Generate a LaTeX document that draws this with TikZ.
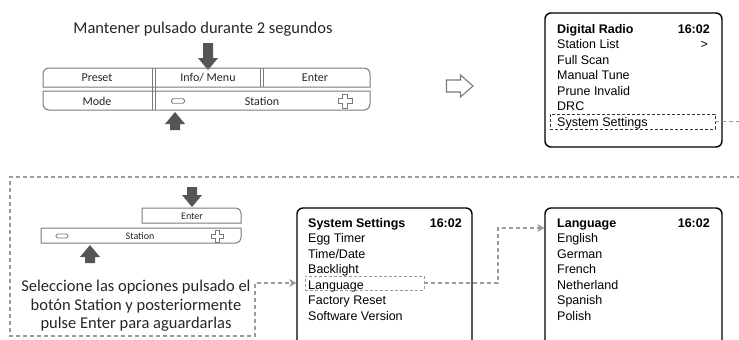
\documentclass[tikz,border=0pt]{standalone}
\usepackage{fontspec}
\setmainfont{Liberation Sans}
\newfontfamily\calfont{Carlito}
\usetikzlibrary{arrows.meta}
\definecolor{arrowgray}{HTML}{555555}
\definecolor{linegray}{HTML}{9A9A9A}
\definecolor{panelgray}{HTML}{7A7A7A}
\begin{document}
\begin{tikzpicture}[x=1pt,y=1pt,
  screen/.style={draw=black,line width=1.4pt,rounded corners=6pt,inner sep=0},
  scrtxt/.style={anchor=base west,inner sep=0,font=\fontsize{12.5}{14}\selectfont},
  scrbold/.style={inner sep=0,font=\fontsize{12.5}{14}\selectfont\bfseries},
  itembox/.style={draw=#1,line width=0.7pt,dash pattern=on 3pt off 2pt,inner sep=0},
  conn/.style={draw=linegray,line width=1.1pt,dash pattern=on 4pt off 3pt},
  tipg/.style={-{Stealth[length=7pt,width=8pt,inset=2pt,fill=linegray]}},
  panel/.style={draw=panelgray,line width=1pt},
  btxt/.style={font=\calfont\fontsize{12}{14}\selectfont,inner sep=0,text=black!85},
  bsmall/.style={font=\calfont\fontsize{10}{12}\selectfont,inner sep=0,text=black!85},
  bigtxt/.style={font=\calfont\fontsize{16.5}{20}\selectfont,anchor=base,inner sep=0,text=black!85},
  minusbox/.style={draw=panelgray,rounded corners=1.5pt,line width=0.8pt,inner sep=0},
  pics/blockarr/.style={code={
     \fill[arrowgray] ({-5},{#1/2}) -- ({5},{#1/2}) -- ({5},{-#1/2+12}) -- ({10},{-#1/2+12})
       -- ({0},{-#1/2}) -- ({-10},{-#1/2+12}) -- ({-5},{-#1/2+12}) -- cycle;}}
]
\clip (0,0) rectangle (739,-340);
\fill[white] (0,0) rectangle (739,-340);

% ---------- top-left: keypad ----------
\node[bigtxt] (title) at (203,-33) {Mantener pulsado durante 2 segundos};
\coordinate (downA) at (208,-56.5);
\pic at (downA) {blockarr=27};

\draw[panel] (43,-87) -- (43,-74) arc[start angle=180,end angle=90,radius=6pt]
   -- (364,-68) arc[start angle=90,end angle=0,radius=6pt] -- (370,-87) -- cycle;
\draw[panel] (43,-91) -- (43,-104) arc[start angle=180,end angle=270,radius=6pt]
   -- (364,-110) arc[start angle=270,end angle=360,radius=6pt] -- (370,-91) -- cycle;
\draw[panel] (152,-68) -- (152,-110) (155,-68) -- (155,-110);
\draw[panel] (260,-68) -- (260,-87) (263,-68) -- (263,-87);

\node[btxt] (preset) at (97,-78) {Preset};
\node[btxt] (info) at (208,-78) {Info/ Menu};
\node[btxt] (enterA) at (315,-78) {Enter};
\node[btxt] (mode) at (97,-101) {Mode};
\node[btxt] (stationA) at (262,-101) {Station};
\node[minusbox,minimum width=13pt,minimum height=4.5pt] (minusA) at (178,-101) {};
\coordinate (plusA) at (345,-101);
\draw[panel,line width=0.8pt,shift={(plusA)}] (-2.5,7) -- (2.5,7) -- (2.5,2.5) -- (7,2.5) -- (7,-2.5)
   -- (2.5,-2.5) -- (2.5,-7) -- (-2.5,-7) -- (-2.5,-2.5) -- (-7,-2.5) -- (-7,2.5) -- (-2.5,2.5) -- cycle;
\coordinate (upA) at (175,-121);
\pic[rotate=180] at (upA) {blockarr=18};

% hollow arrow
\coordinate (hollow) at (459.5,-86);
\draw[panel,line width=1.1pt,fill=white,shift={(hollow)}] (-13,6) -- (1,6) -- (1,11) -- (13.5,0)
   -- (1,-11) -- (1,-6) -- (-13,-6) -- cycle;

% ---------- top screen ----------
\node[screen,minimum width=177pt,minimum height=134pt] (scr1) at (633.5,-80) {};
\node[scrbold,anchor=base west] (s1t) at (557,-33) {Digital Radio};
\node[scrbold,anchor=base east] (s1c) at (710,-33) {16:02};
\node[scrtxt] (s1a) at (557,-48.5) {Station List};
\node[scrtxt,anchor=base east] (s1g) at (708,-48.5) {>};
\node[scrtxt] (s1b) at (557,-64) {Full Scan};
\node[scrtxt] (s1d) at (557,-79.5) {Manual Tune};
\node[scrtxt] (s1e) at (557,-95) {Prune Invalid};
\node[scrtxt] (s1f) at (557,-110.5) {DRC};
\node[scrtxt] (s1h) at (557,-126) {System Settings};
\node[itembox=black!80,minimum width=165pt,minimum height=15pt] (ssbox) at (632.5,-121.5) {};

% ---------- bottom-left: keypad ----------
\coordinate (downB) at (192,-197);
\pic at (downB) {blockarr=20};
\draw[panel] (142,-223) -- (142,-208) -- (236,-208) arc[start angle=90,end angle=0,radius=5pt]
   -- (241,-223) -- cycle;
\draw[panel] (41,-228) -- (241,-228) -- (241,-238) arc[start angle=0,end angle=-90,radius=5pt]
   -- (41,-243) -- cycle;
\node[bsmall] (enterB) at (192,-216) {Enter};
\node[bsmall] (stationB) at (140,-236) {Station};
\node[minusbox,minimum width=12pt,minimum height=4pt] (minusB) at (62,-236) {};
\coordinate (plusB) at (217,-236);
\draw[panel,line width=0.8pt,shift={(plusB)}] (-2,6) -- (2,6) -- (2,2) -- (6,2) -- (6,-2)
   -- (2,-2) -- (2,-6) -- (-2,-6) -- (-2,-2) -- (-6,-2) -- (-6,2) -- (-2,2) -- cycle;
\coordinate (upB) at (90,-254);
\pic[rotate=180] at (upB) {blockarr=18};

\node[bigtxt] (sel1) at (136,-291) {Seleccione las opciones pulsado el};
\node[bigtxt] (sel2) at (136,-310) {botón Station y posteriormente};
\node[bigtxt] (sel3) at (136,-328) {pulse Enter para aguardarlas};

% ---------- middle screen ----------
\node[screen,minimum width=175pt,minimum height=162pt] (scr2) at (384.5,-289) {};
\node[scrbold,anchor=base west] (s2t) at (308,-227) {System Settings};
\node[scrbold,anchor=base east] (s2c) at (462,-227) {16:02};
\node[scrtxt] (s2a) at (308,-242.5) {Egg Timer};
\node[scrtxt] (s2b) at (308,-258) {Time/Date};
\node[scrtxt] (s2d) at (308,-273.5) {Backlight};
\node[scrtxt] (s2e) at (308,-289) {Language};
\node[scrtxt] (s2f) at (308,-304.5) {Factory Reset};
\node[scrtxt] (s2g) at (308,-320) {Software Version};
\node[itembox=linegray,minimum width=119pt,minimum height=14pt] (langbox) at (364.5,-283) {};

% ---------- right screen ----------
\node[screen,minimum width=177pt,minimum height=162pt] (scr3) at (633.5,-289) {};
\node[scrbold,anchor=base west] (s3t) at (557,-227) {Language};
\node[scrbold,anchor=base east] (s3c) at (710,-227) {16:02};
\node[scrtxt] (s3a) at (557,-242.5) {English};
\node[scrtxt] (s3b) at (557,-258) {German};
\node[scrtxt] (s3d) at (557,-273.5) {French};
\node[scrtxt] (s3e) at (557,-289) {Netherland};
\node[scrtxt] (s3f) at (557,-304.5) {Spanish};
\node[scrtxt] (s3g) at (557,-320) {Polish};

% ---------- connectors ----------
\coordinate (offR1) at (760,-121.5);
\coordinate (offR2) at (760,-177);
\coordinate (fTL) at (10,-177);
\coordinate (fBL) at (10,-336);
\coordinate (fBR) at (255,-336);
\coordinate (fR) at (255,-283);
\draw[conn,tipg] (ssbox.east) -- (offR1) -- (offR2) -- (fTL) -- (fBL) -- (fBR) -- (fR)
   -- (scr2.west |- langbox.west);
\coordinate (lk) at (498,-283);
\draw[conn,tipg] (langbox.east) -- (lk) -- (lk |- 0,-228) -- (scr3.west |- 0,-228);
\end{tikzpicture}
\end{document}
